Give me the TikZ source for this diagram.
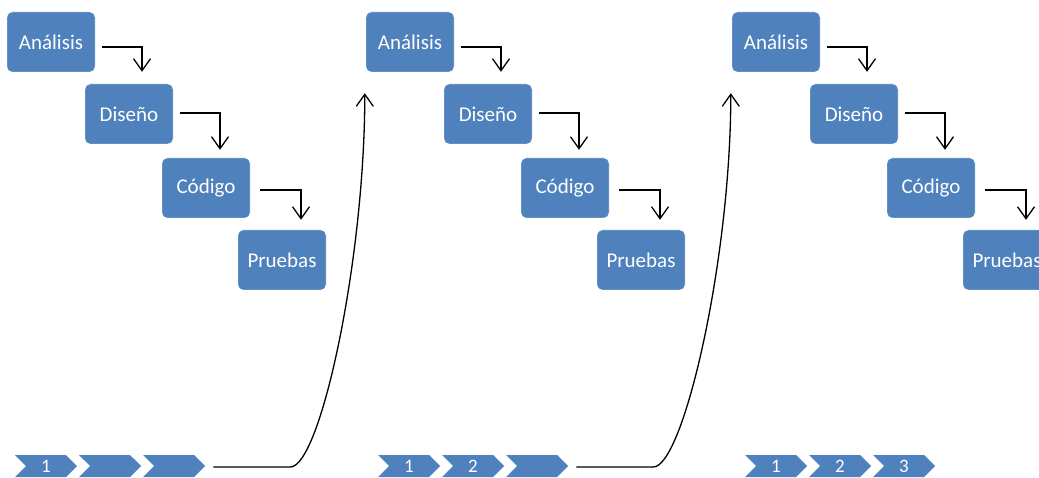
\documentclass[tikz,border=0pt]{standalone}
\usepackage{fontspec}
\setmainfont{Carlito}
\usetikzlibrary{arrows.meta,shapes.symbols}
\definecolor{faseblue}{RGB}{79,129,189}
\tikzset{
  fase/.style={fill=faseblue, draw=white, rounded corners=5pt, inner sep=0pt,
    minimum width=88pt, minimum height=60pt, text=white,
    font=\fontsize{21}{21}\selectfont},
  iter/.style={signal, signal from=west, signal to=east, fill=faseblue,
    inner sep=0pt, minimum width=62pt, minimum height=22pt, text=white,
    font=\fontsize{19}{19}\selectfont},
  paso/.style={-{Straight Barb[length=12pt,width=17pt]}, line width=1.3pt},
}
\begin{document}
\begin{tikzpicture}[x=1pt,y=-1pt]
  \useasboundingbox (0,0) rectangle (1039,478);
  % one cascade per iteration
  \foreach \g/\dx in {1/0, 2/359, 3/725} {
    \node[fase] (a\g) at (51+\dx,42)  {Análisis};
    \node[fase] (d\g) at (129+\dx,114) {Diseño};
    \node[fase] (c\g) at (206+\dx,188) {Código};
    \node[fase] (p\g) at (282+\dx,260) {Pruebas};
    \draw[paso] ([shift={(7,5)}]a\g.east) -| ([shift={(13,-12)}]d\g.north);
    \draw[paso] ([shift={(7,-1)}]d\g.east) -| ([shift={(14,-8)}]c\g.north);
    \draw[paso] ([shift={(10,2)}]c\g.east) -| ([shift={(19,-10)}]p\g.north);
  }
  % iteration chevrons
  \foreach \g/\dx in {1/0, 2/363, 3/730} {
    \foreach \k in {1,2,3} {
      \node[iter] (v\g\k) at (46+64*\k-64+\dx,466) {\ifnum\k>\g\else\k\fi};
    }
  }
  % back to analysis
  \foreach \g/\h in {1/2, 2/3} {
    \draw[paso]
      ([shift={(8,1)}]v\g3.east) -- ++(77,0)
      .. controls +(30,0) and +(0,167) .. ([shift={(-1,21)}]a\h.south west);
  }
\end{tikzpicture}
\end{document}
